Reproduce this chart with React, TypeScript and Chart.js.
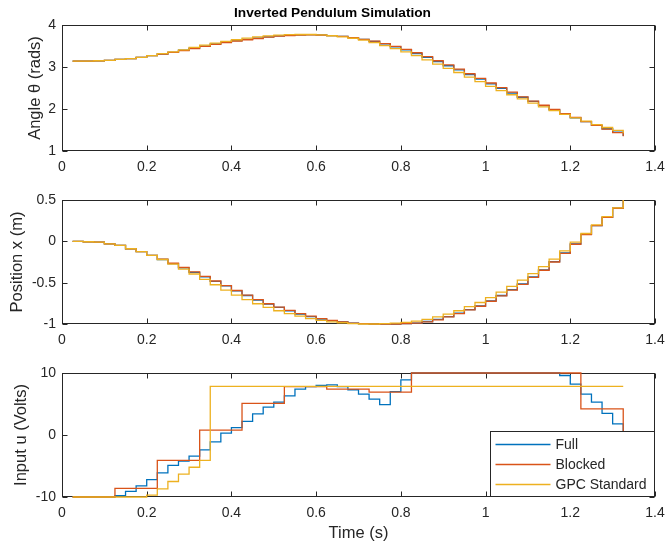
import React, { useEffect, useRef } from "react";
import { Chart, registerables } from "chart.js";

Chart.register(...registerables);

const timeS = [
  0.025, 0.05, 0.075, 0.1, 0.125, 0.15, 0.175, 0.2, 0.225, 0.25, 0.275, 0.3, 0.325, 0.35, 0.375, 0.4,
  0.425, 0.45, 0.475, 0.5, 0.525, 0.55, 0.575, 0.6, 0.625, 0.65, 0.675, 0.7, 0.725, 0.75, 0.775, 0.8,
  0.825, 0.85, 0.875, 0.9, 0.925, 0.95, 0.975, 1.0, 1.025, 1.05, 1.075, 1.1, 1.125, 1.15, 1.175, 1.2,
  1.225, 1.25, 1.275, 1.3, 1.325,
];

const angleFull = [
  3.14, 3.14, 3.15, 3.16, 3.18, 3.2, 3.23, 3.27, 3.31, 3.35, 3.4, 3.45, 3.5, 3.55, 3.59, 3.63,
  3.66, 3.69, 3.72, 3.74, 3.755, 3.765, 3.77, 3.765, 3.75, 3.73, 3.7, 3.66, 3.61, 3.55, 3.48, 3.41,
  3.32, 3.23, 3.13, 3.03, 2.93, 2.82, 2.71, 2.6, 2.49, 2.38, 2.28, 2.18, 2.08, 1.98, 1.88, 1.79,
  1.7, 1.61, 1.53, 1.45, 1.36,
];
const angleBlocked = [
  3.14, 3.14, 3.15, 3.16, 3.18, 3.2, 3.23, 3.27, 3.31, 3.35, 3.39, 3.44, 3.49, 3.54, 3.58, 3.62,
  3.65, 3.68, 3.71, 3.735, 3.75, 3.76, 3.765, 3.76, 3.75, 3.73, 3.7, 3.66, 3.615, 3.555, 3.49, 3.42,
  3.34, 3.25, 3.15, 3.05, 2.95, 2.84, 2.73, 2.62, 2.51, 2.4, 2.29, 2.19, 2.09, 1.99, 1.89, 1.8,
  1.7, 1.61, 1.52, 1.44, 1.35,
];
const angleGpc = [
  3.14, 3.14, 3.15, 3.16, 3.18, 3.2, 3.23, 3.27, 3.32, 3.36, 3.41, 3.47, 3.52, 3.57, 3.61, 3.65,
  3.69, 3.72, 3.74, 3.76, 3.77, 3.775, 3.775, 3.765, 3.745, 3.72, 3.685, 3.64, 3.58, 3.51, 3.44, 3.36,
  3.27, 3.17, 3.07, 2.97, 2.87, 2.76, 2.65, 2.54, 2.44, 2.34, 2.24, 2.14, 2.05, 1.96, 1.87, 1.79,
  1.71, 1.63, 1.56, 1.49, 1.42,
];

const posFull = [
  0.0, -0.005, -0.01, -0.03, -0.05, -0.09, -0.125, -0.17, -0.22, -0.27, -0.32, -0.375, -0.43, -0.485, -0.54, -0.6,
  -0.655, -0.71, -0.76, -0.8, -0.84, -0.88, -0.91, -0.94, -0.96, -0.975, -0.99, -0.995, -1.0, -1.0, -1.0, -0.995,
  -0.99, -0.97, -0.945, -0.91, -0.87, -0.825, -0.78, -0.72, -0.655, -0.585, -0.515, -0.43, -0.345, -0.245, -0.14, -0.03,
  0.085, 0.19, 0.29, 0.4, 0.5,
];
const posBlocked = [
  0.0, -0.005, -0.01, -0.03, -0.05, -0.09, -0.125, -0.17, -0.215, -0.265, -0.315, -0.37, -0.425, -0.48, -0.535, -0.595,
  -0.65, -0.705, -0.755, -0.795, -0.835, -0.875, -0.905, -0.935, -0.955, -0.975, -0.99, -0.995, -1.0, -1.0, -1.0, -0.995,
  -0.99, -0.975, -0.95, -0.915, -0.875, -0.83, -0.785, -0.725, -0.66, -0.59, -0.52, -0.435, -0.35, -0.25, -0.145, -0.035,
  0.08, 0.19, 0.29, 0.4, 0.5,
];
const posGpc = [
  0.0, -0.005, -0.01, -0.03, -0.05, -0.09, -0.125, -0.17, -0.22, -0.275, -0.335, -0.395, -0.46, -0.525, -0.59, -0.65,
  -0.705, -0.755, -0.8, -0.84, -0.875, -0.905, -0.935, -0.955, -0.975, -0.985, -0.995, -1.0, -1.0, -0.995, -0.99, -0.98,
  -0.965, -0.945, -0.915, -0.88, -0.84, -0.79, -0.74, -0.68, -0.615, -0.545, -0.47, -0.39, -0.305, -0.215, -0.115, -0.01,
  0.095, 0.2, 0.3, 0.405, 0.5,
];

const inputFull = [
  -10, -10, -10, -10, -9.8, -9.1, -8.2, -7.2, -6.1, -4.9, -4.2, -3.4, -2.4, -1.1, 0.3, 1.2,
  2.2, 3.4, 4.5, 5.3, 6.3, 7.4, 7.8, 8.0, 8.1, 7.8, 7.3, 6.6, 5.8, 4.9, 7.0, 8.9,
  10, 10, 10, 10, 10, 10, 10, 10, 10, 10, 10, 10, 10, 10, 9.6, 8.2,
  6.6, 5.3, 3.5, 1.8, 0.3,
];
const inputBlocked = [
  -10, -10, -10, -10, -8.6, -8.6, -8.6, -8.6, -4.1, -4.1, -4.1, -4.1, 0.8, 0.8, 0.8, 0.8,
  5.1, 5.1, 5.1, 5.1, 7.8, 7.8, 7.8, 7.8, 7.4, 7.4, 7.4, 7.4, 6.9, 6.9, 6.9, 6.9,
  10, 10, 10, 10, 10, 10, 10, 10, 10, 10, 10, 10, 10, 10, 10, 10,
  4.2, 4.2, 4.2, 4.2, 0.0,
];
const inputGpc = [
  -10, -10, -10, -10, -10, -10, -10, -9.7, -8.7, -7.5, -6.3, -5.2, -4.1, 7.85, 7.85, 7.85,
  7.85, 7.85, 7.85, 7.85, 7.85, 7.85, 7.85, 7.85, 7.85, 7.85, 7.85, 7.85, 7.85, 7.85, 7.85, 7.85,
  7.85, 7.85, 7.85, 7.85, 7.85, 7.85, 7.85, 7.85, 7.85, 7.85, 7.85, 7.85, 7.85, 7.85, 7.85, 7.85,
  7.85, 7.85, 7.85, 7.85, 7.85,
];

const seriesNames = ["Full", "Blocked", "GPC Standard"];
const seriesColors = ["#0072BD", "#D95319", "#EDB120"];

const xTicks = [0, 0.2, 0.4, 0.6, 0.8, 1.0, 1.2, 1.4];
const angleTicks = [1, 2, 3, 4];
const posTicks = [-1, -0.5, 0, 0.5];
const inputTicks = [-10, 0, 10];

const chartTitle = "Inverted Pendulum Simulation";
const angleLabel = "Angle θ (rads)";
const posLabel = "Position x (m)";
const inputLabel = "Input u (Volts)";
const timeLabel = "Time (s)";

const FONT = "'Liberation Sans', Arial, Helvetica, sans-serif";
const AXIS_COLOR = "#262626";
const W = 665;
const PLOT_LEFT = 62;
const PLOT_RIGHT = 655;
const TICK_SIZE = 14;
const LABEL_SIZE = 16.5;

type Panel = {
  top: number;
  height: number;
  plotTop: number;
  plotBottom: number;
  yMin: number;
  yMax: number;
  yTicks: number[];
  yLabel: string;
  yLabelX: number;
  series: number[][];
  title?: string;
  xLabel?: string;
  legend?: boolean;
};

const panels: Panel[] = [
  { top: 0, height: 180, plotTop: 25, plotBottom: 151, yMin: 1, yMax: 4, yTicks: angleTicks, yLabel: angleLabel, yLabelX: 35, series: [angleFull, angleBlocked, angleGpc], title: chartTitle },
  { top: 180, height: 172, plotTop: 200, plotBottom: 324, yMin: -1, yMax: 0.5, yTicks: posTicks, yLabel: posLabel, yLabelX: 17, series: [posFull, posBlocked, posGpc] },
  { top: 352, height: 195, plotTop: 373, plotBottom: 497, yMin: -10, yMax: 10, yTicks: inputTicks, yLabel: inputLabel, yLabelX: 21, series: [inputFull, inputBlocked, inputGpc], xLabel: timeLabel, legend: true },
];

const fmt = (v: number | string) => String(Math.round(Number(v) * 100) / 100);

const framePlugin = {
  id: "frame",
  beforeDatasetsDraw(chart: any) {
    const { ctx, chartArea: a, scales } = chart;
    ctx.save();
    ctx.strokeStyle = AXIS_COLOR;
    ctx.lineWidth = 1;
    const L = Math.round(a.left) + 0.5;
    const R = Math.round(a.right) - 0.5;
    const T = Math.round(a.top) + 0.5;
    const B = Math.round(a.bottom) - 0.5;
    ctx.strokeRect(L, T, R - L, B - T);
    const len = 5;
    ctx.beginPath();
    for (const t of scales.x.ticks) {
      const px = Math.round(scales.x.getPixelForValue(t.value)) + 0.5;
      ctx.moveTo(px, B); ctx.lineTo(px, B - len);
      ctx.moveTo(px, T); ctx.lineTo(px, T + len);
    }
    for (const t of scales.y.ticks) {
      const py = Math.round(scales.y.getPixelForValue(t.value)) + 0.5;
      ctx.moveTo(L, py); ctx.lineTo(L + len, py);
      ctx.moveTo(R, py); ctx.lineTo(R - len, py);
    }
    ctx.stroke();
    ctx.restore();
  },
};

const legendBoxPlugin = {
  id: "legendBox",
  afterDraw(chart: any, _args: any, opts: any) {
    if (!opts || !opts.show) return;
    const { ctx, chartArea: a } = chart;
    const boxW = 164;
    const boxH = 65;
    const x0 = Math.round(a.right) - boxW - 0.5;
    const y0 = Math.round(a.bottom) - boxH - 0.5;
    ctx.save();
    ctx.fillStyle = "#ffffff";
    ctx.fillRect(x0, y0, boxW, boxH);
    ctx.strokeStyle = AXIS_COLOR;
    ctx.lineWidth = 1;
    ctx.strokeRect(x0, y0, boxW, boxH);
    ctx.font = `14px ${FONT}`;
    ctx.textBaseline = "middle";
    ctx.textAlign = "left";
    chart.data.datasets.forEach((ds: any, i: number) => {
      const y = y0 + 13 + i * 20;
      ctx.strokeStyle = ds.borderColor;
      ctx.lineWidth = 1.3;
      ctx.beginPath();
      ctx.moveTo(x0 + 5, y);
      ctx.lineTo(x0 + 60, y);
      ctx.stroke();
      ctx.fillStyle = AXIS_COLOR;
      ctx.fillText(ds.label, x0 + 65, y + 0.5);
    });
    ctx.restore();
  },
};

function PanelChart({ panel }: { panel: Panel }) {
  const ref = useRef<HTMLCanvasElement | null>(null);
  useEffect(() => {
    if (!ref.current) return;
    const p = panel;
    const titleH = p.title ? 25 : 0;
    const chart = new Chart(ref.current, {
      type: "line",
      data: {
        datasets: p.series.map((vals, i) => ({
          label: seriesNames[i],
          data: timeS.map((t, k) => ({ x: t, y: vals[k] })),
          borderColor: seriesColors[i],
          backgroundColor: seriesColors[i],
          borderWidth: 1.3,
          pointRadius: 0,
          stepped: "before" as const,
          fill: false,
          clip: 3,
          order: 3 - i,
        })),
      },
      options: {
        animation: false,
        responsive: false,
        maintainAspectRatio: false,
        devicePixelRatio: 1,
        events: [],
        layout: {
          autoPadding: false,
          padding: { left: 0, right: 0, top: p.plotTop - p.top - titleH, bottom: 0 },
        },
        plugins: {
          legend: { display: false },
          tooltip: { enabled: false },
          title: {
            display: !!p.title,
            text: p.title || "",
            color: "#000000",
            font: { family: FONT, size: 13.7, weight: "bold" },
            padding: { top: 5.5, bottom: 3.1 },
          },
          legendBox: { show: !!p.legend },
        } as any,
        scales: {
          x: {
            type: "linear",
            min: 0,
            max: 1.4,
            afterBuildTicks: (s: any) => {
              s.ticks = xTicks.map((v) => ({ value: v }));
            },
            afterFit: (s: any) => {
              s.height = p.top + p.height - p.plotBottom;
              s.paddingLeft = 0;
              s.paddingRight = W - PLOT_RIGHT;
            },
            ticks: {
              callback: (v: any) => fmt(v),
              font: { family: FONT, size: TICK_SIZE },
              color: AXIS_COLOR,
              padding: 8,
              maxRotation: 0,
              autoSkip: false,
            },
            grid: { display: false, drawTicks: false },
            border: { display: false },
            title: {
              display: !!p.xLabel,
              text: p.xLabel || "",
              color: AXIS_COLOR,
              font: { family: FONT, size: LABEL_SIZE },
              padding: { top: 0, bottom: 14 - LABEL_SIZE * 0.6 },
            },
          },
          y: {
            type: "linear",
            min: p.yMin,
            max: p.yMax,
            afterBuildTicks: (s: any) => {
              s.ticks = p.yTicks.map((v) => ({ value: v }));
            },
            afterFit: (s: any) => {
              s.width = PLOT_LEFT;
              s.paddingTop = 0;
              s.paddingBottom = 0;
            },
            ticks: {
              callback: (v: any) => fmt(v),
              font: { family: FONT, size: TICK_SIZE },
              color: AXIS_COLOR,
              padding: 6,
              autoSkip: false,
            },
            grid: { display: false, drawTicks: false },
            border: { display: false },
            title: {
              display: true,
              text: p.yLabel,
              color: AXIS_COLOR,
              font: { family: FONT, size: LABEL_SIZE },
              padding: { top: p.yLabelX - LABEL_SIZE * 0.6, bottom: 0 },
            },
          },
        },
      },
      plugins: [framePlugin, legendBoxPlugin],
    } as any);
    return () => chart.destroy();
  }, [panel]);
  return (
    <canvas
      ref={ref}
      width={W}
      height={panel.height}
      style={{ position: "absolute", left: 0, top: panel.top, width: W, height: panel.height }}
    />
  );
}

export default function App() {
  return (
    <div style={{ position: "fixed", left: 0, top: 0, width: W, height: 547, background: "#ffffff", overflow: "hidden" }}>
      {panels.map((p, i) => (
        <PanelChart key={i} panel={p} />
      ))}
    </div>
  );
}
